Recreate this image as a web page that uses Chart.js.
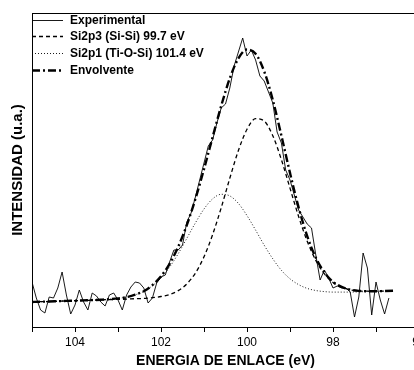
<!DOCTYPE html>
<html><head><meta charset="utf-8">
<script src="https://cdn.jsdelivr.net/npm/chart.js@4"></script>
<style>
html,body{margin:0;padding:0;background:#fff;overflow:hidden;width:414px;height:370px}
#wrap{width:440px;height:370px}
</style></head>
<body><div id="wrap"><canvas id="c" width="440" height="370"></canvas></div>
<script>
// Binding energy (eV) of the measured spectrum
const energyExp = [105.0,104.9,104.8,104.7,104.6,104.5,104.4,104.3,104.2,104.1,104.0,103.9,103.8,103.7,103.6,103.5,103.4,103.3,103.2,103.1,103.0,102.9,102.8,102.7,102.6,102.5,102.4,102.3,102.2,102.1,102.0,101.9,101.8,101.7,101.6,101.5,101.4,101.3,101.2,101.1,101.0,100.9,100.8,100.7,100.6,100.5,100.4,100.3,100.2,100.1,100.0,99.9,99.8,99.7,99.6,99.5,99.4,99.3,99.2,99.1,99.0,98.9,98.8,98.7,98.6,98.5,98.4,98.3,98.2,98.1,98.0,97.9,97.8,97.7,97.6,97.5,97.4,97.3,97.2,97.1,97.0,96.9,96.8,96.7];
// Measured intensity (a.u.)
const experimental = [45,29,17,14,30,29,39,55,32,13,22,37,25,17,34,31,25,21,32,34,27,17,32,40,45,44,39,24,29,44,50,52,65,77,77,82,105,114,130,147,164,181,187,204,219,223,239,261,275,289,271,277,267,251,246,235,224,195,184,157,147,132,117,110,103,99,72,47,57,49,39,41,39,39,35,10,30,74,59,12,45,27,13,29];
// Binding energy (eV) of the fitted curves
const energyFit = [105.0,104.8,104.6,104.4,104.2,104.0,103.8,103.6,103.4,103.2,103.0,102.8,102.6,102.4,102.2,102.0,101.8,101.6,101.4,101.2,101.0,100.8,100.6,100.4,100.2,100.0,99.8,99.6,99.4,99.2,99.0,98.8,98.6,98.4,98.2,98.0,97.8,97.6,97.4,97.2,97.0,96.8,96.6];
const si2p3 = [25.0,25.3,25.5,25.8,26.1,26.3,26.6,26.8,27.1,27.4,27.6,27.9,28.3,28.6,29.3,30.5,32.5,36.4,43.1,53.9,70.2,92.3,119.2,148.7,176.5,197.7,208.3,206.0,191.3,167.3,138.9,110.5,85.8,66.6,53.2,44.6,39.8,37.2,36.1,35.8,35.8,36.0,36.2];
const si2p1 = [25.0,25.3,25.5,25.8,26.1,26.3,26.6,26.9,27.3,27.8,28.6,29.9,32.2,35.6,41.2,49.2,59.9,73.3,88.6,104.1,118.0,128.1,132.7,131.1,123.6,111.4,96.9,81.8,68.2,56.7,48.2,42.4,38.6,36.5,35.4,34.9,34.9,34.9,35.1,35.4,35.6,35.9,36.2];
const envolvente = [25.0,25.3,25.5,25.8,26.1,26.3,26.6,26.9,27.3,27.8,28.6,29.9,32.3,35.8,41.8,50.7,63.2,80.2,101.9,128.0,157.9,189.8,221.1,248.7,268.7,277.5,273.3,255.6,227.0,191.3,154.1,119.6,90.9,69.3,54.5,45.2,40.1,37.3,36.1,35.8,35.8,36.0,36.2];
const xTickLabels = [104,102,100,98,96];
const seriesLabels = ['Experimental','Si2p3 (Si-Si) 99.7 eV','Si2p1 (Ti-O-Si) 101.4 eV','Envolvente'];
const xTitle = 'ENERGIA DE ENLACE (eV)';
const yTitle = 'INTENSIDAD (u.a.)';

const FONT = 'Liberation Sans, Arial, Helvetica, sans-serif';
const toXY = (xs, ys) => xs.map((x, i) => ({x: x, y: ys[i]}));

const framePlugin = {
  id: 'frame',
  afterDraw(chart) {
    const a = chart.chartArea, ctx = chart.ctx;
    ctx.save();
    ctx.strokeStyle = '#000';
    ctx.lineWidth = 1;
    ctx.strokeRect(Math.round(a.left) + 0.5, Math.round(a.top) + 0.5, a.right - a.left, Math.round(a.bottom - a.top));
    ctx.restore();
  }
};
const legendPlugin = {
  id: 'insideLegend',
  afterDraw(chart) {
    const a = chart.chartArea, ctx = chart.ctx;
    const rows = [20, 36, 53, 70];
    ctx.save();
    ctx.font = 'bold 12px ' + FONT;
    ctx.textBaseline = 'middle';
    ctx.fillStyle = '#000';
    chart.data.datasets.forEach((ds, i) => {
      const y = rows[i] + 0.5;
      ctx.strokeStyle = '#000';
      ctx.lineWidth = ds.borderWidth;
      ctx.setLineDash(ds.borderDash || []);
      ctx.beginPath();
      ctx.moveTo(a.left, y);
      ctx.lineTo(a.left + 31, y);
      ctx.stroke();
      ctx.setLineDash([]);
      ctx.fillText(ds.label, a.left + 38, y);
    });
    ctx.restore();
  }
};

new Chart(document.getElementById('c').getContext('2d'), {
  type: 'line',
  data: {
    datasets: [
      {label: seriesLabels[0], data: toXY(energyExp, experimental), borderColor: '#000', borderWidth: 0.9, pointRadius: 0, tension: 0, fill: false, order: 1},
      {label: seriesLabels[1], data: toXY(energyFit, si2p3), borderColor: '#000', borderWidth: 1.3, borderDash: [4, 3], pointRadius: 0, cubicInterpolationMode: 'monotone', fill: false, order: 2},
      {label: seriesLabels[2], data: toXY(energyFit, si2p1), borderColor: '#000', borderWidth: 0.9, borderDash: [1, 2], pointRadius: 0, cubicInterpolationMode: 'monotone', fill: false, order: 3},
      {label: seriesLabels[3], data: toXY(energyFit, envolvente), borderColor: '#000', borderWidth: 2.4, borderDash: [8, 3, 2, 3], pointRadius: 0, cubicInterpolationMode: 'monotone', fill: false, order: 0}
    ]
  },
  options: {
    responsive: false,
    animation: false,
    devicePixelRatio: 1,
    layout: {padding: {top: 13, right: 21, left: 0, bottom: 0}},
    plugins: {legend: {display: false}, tooltip: {enabled: false}},
    scales: {
      x: {
        type: 'linear', reverse: true, min: 96, max: 105,
        afterFit(s) { s.height = 43; },
        ticks: {stepSize: 1, autoSkip: false, maxRotation: 0, padding: 3, color: '#000',
          font: {family: FONT, size: 12},
          callback: (v) => xTickLabels.includes(v) ? String(v) : ''},
        grid: {drawOnChartArea: false, drawTicks: true, tickLength: 5, color: '#000'},
        border: {display: false},
        title: {display: true, text: xTitle, color: '#000', font: {family: FONT, size: 14, weight: 'bold'}, padding: {top: 0, bottom: 0}}
      },
      y: {
        min: 0, max: 314,
        afterFit(s) { s.width = 32; },
        ticks: {display: false},
        grid: {display: false},
        border: {display: false},
        title: {display: true, text: yTitle, color: '#000', font: {family: FONT, size: 15, weight: 'bold'}, padding: {top: 9, bottom: 0}}
      }
    }
  },
  plugins: [framePlugin, legendPlugin]
});
</script>
</body></html>
